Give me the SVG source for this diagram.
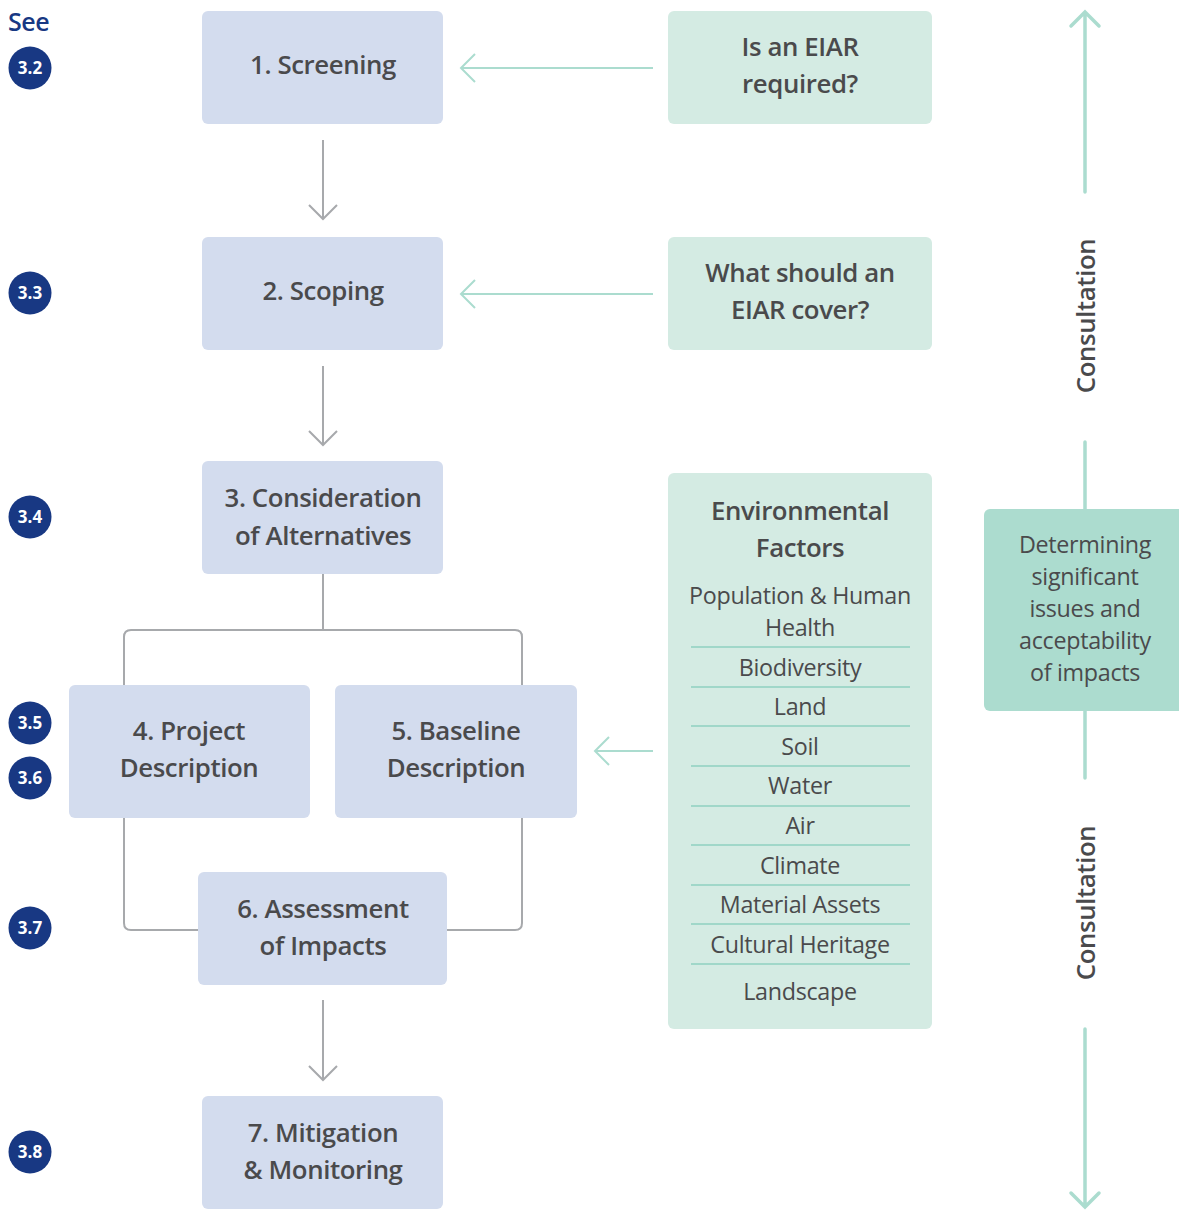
<svg xmlns="http://www.w3.org/2000/svg" width="1179" height="1210" viewBox="0 0 1179 1210">
<defs>
<style>
.node{fill:#d3dcee}
.q{fill:#d4ebe3}
.det{fill:#acdccf}
.t{font-family:"Open Sans","Noto Sans",sans-serif;font-weight:600;font-size:25.8px;fill:#4a4a4c;text-anchor:middle;letter-spacing:-0.4px}
.r{font-family:"Open Sans","Noto Sans",sans-serif;font-weight:400;font-size:23.3px;fill:#4a4a4c;text-anchor:middle;letter-spacing:-0.3px}
.grey{fill:none;stroke:#a7a9ac;stroke-width:2}
.teal{fill:none;stroke:#abdccf;stroke-width:2}
.tealw{fill:none;stroke:#abdccf;stroke-width:3.5;stroke-linecap:round}
.sep{stroke:#8fd0c0;stroke-width:1.3}
.badge{fill:#183883}
.bt{font-family:"Open Sans","Noto Sans",sans-serif;font-weight:700;font-size:17px;fill:#ffffff;text-anchor:middle}
</style>
</defs>
<rect width="1179" height="1210" fill="#ffffff"/>

<g id="see">
<text x="8" y="31" font-family="'Open Sans','Noto Sans',sans-serif" font-weight="600" font-size="25" fill="#183883" letter-spacing="-0.4">See</text>
<g id="b32"><circle class="badge" cx="30" cy="68" r="21.5"/><text class="bt" x="30" y="74">3.2</text></g>
<g id="b33"><circle class="badge" cx="30" cy="293" r="21.5"/><text class="bt" x="30" y="299">3.3</text></g>
<g id="b34"><circle class="badge" cx="30" cy="517" r="21.5"/><text class="bt" x="30" y="523">3.4</text></g>
<g id="b35"><circle class="badge" cx="30" cy="723" r="21.5"/><text class="bt" x="30" y="729">3.5</text></g>
<g id="b36"><circle class="badge" cx="30" cy="778" r="21.5"/><text class="bt" x="30" y="784">3.6</text></g>
<g id="b37"><circle class="badge" cx="30" cy="928" r="21.5"/><text class="bt" x="30" y="934">3.7</text></g>
<g id="b38"><circle class="badge" cx="30" cy="1152" r="21.5"/><text class="bt" x="30" y="1158">3.8</text></g>
</g>

<g id="connectors">
<path class="grey" d="M323 140V219M309 205L323 219L337 205"/>
<path class="grey" d="M323 366V445M309 431L323 445L337 431"/>
<path class="grey" d="M323 1000V1080M309 1066L323 1080L337 1066"/>
<path class="grey" d="M323 574V630M124 685V637Q124 630 131 630H515Q522 630 522 637V685"/>
<path class="grey" d="M124 818V923Q124 930 131 930H199M522 818V923Q522 930 515 930H447"/>
<path class="teal" d="M653 68H461M475 54L461 68L475 82"/>
<path class="teal" d="M653 294H461M475 280L461 294L475 308"/>
<path class="teal" d="M653 751H595M609 737L595 751L609 765"/>
<path class="tealw" d="M1085 192V12M1071 26L1085 12L1099 26"/>
<path class="tealw" d="M1085 442V509M1085 711V778"/>
<path class="tealw" d="M1085 1029V1207M1071 1193L1085 1207L1099 1193"/>
</g>

<g id="n1"><rect class="node" x="202" y="11" width="241" height="113" rx="6"/><text class="t" x="323" y="74">1. Screening</text></g>
<g id="n2"><rect class="node" x="202" y="237" width="241" height="113" rx="6"/><text class="t" x="323" y="300">2. Scoping</text></g>
<g id="n3"><rect class="node" x="202" y="461" width="241" height="113" rx="6"/><text class="t" x="323" y="507">3. Consideration</text><text class="t" x="323" y="545">of Alternatives</text></g>
<g id="n4"><rect class="node" x="69" y="685" width="241" height="133" rx="6"/><text class="t" x="189" y="740">4. Project</text><text class="t" x="189" y="777">Description</text></g>
<g id="n5"><rect class="node" x="335" y="685" width="242" height="133" rx="6"/><text class="t" x="456" y="740">5. Baseline</text><text class="t" x="456" y="777">Description</text></g>
<g id="n6"><rect class="node" x="198" y="872" width="249" height="113" rx="6"/><text class="t" x="323" y="918">6. Assessment</text><text class="t" x="323" y="955">of Impacts</text></g>
<g id="n7"><rect class="node" x="202" y="1096" width="241" height="113" rx="6"/><text class="t" x="323" y="1142">7. Mitigation</text><text class="t" x="323" y="1179">&amp; Monitoring</text></g>

<g id="q1"><rect class="q" x="668" y="11" width="264" height="113" rx="6"/><text class="t" x="800" y="56">Is an EIAR</text><text class="t" x="800" y="93">required?</text></g>
<g id="q2"><rect class="q" x="668" y="237" width="264" height="113" rx="6"/><text class="t" x="800" y="282">What should an</text><text class="t" x="800" y="319">EIAR cover?</text></g>

<g id="env">
<rect class="q" x="668" y="473" width="264" height="556" rx="6"/>
<text class="t" x="800" y="520">Environmental</text>
<text class="t" x="800" y="557">Factors</text>
<text class="r" x="800" y="604">Population &amp; Human</text>
<text class="r" x="800" y="636">Health</text>
<line class="sep" x1="691" y1="647" x2="910" y2="647"/>
<text class="r" x="800" y="676">Biodiversity</text>
<line class="sep" x1="691" y1="687" x2="910" y2="687"/>
<text class="r" x="800" y="715">Land</text>
<line class="sep" x1="691" y1="726" x2="910" y2="726"/>
<text class="r" x="800" y="755">Soil</text>
<line class="sep" x1="691" y1="766" x2="910" y2="766"/>
<text class="r" x="800" y="794">Water</text>
<line class="sep" x1="691" y1="806" x2="910" y2="806"/>
<text class="r" x="800" y="834">Air</text>
<line class="sep" x1="691" y1="845" x2="910" y2="845"/>
<text class="r" x="800" y="874">Climate</text>
<line class="sep" x1="691" y1="885" x2="910" y2="885"/>
<text class="r" x="800" y="913">Material Assets</text>
<line class="sep" x1="691" y1="924" x2="910" y2="924"/>
<text class="r" x="800" y="953">Cultural Heritage</text>
<line class="sep" x1="691" y1="964" x2="910" y2="964"/>
<text class="r" x="800" y="1000">Landscape</text>
</g>

<g id="det">
<rect class="det" x="984" y="509" width="205" height="202" rx="6"/>
<text class="r" x="1085" y="553">Determining</text>
<text class="r" x="1085" y="585">significant</text>
<text class="r" x="1085" y="617">issues and</text>
<text class="r" x="1085" y="649">acceptability</text>
<text class="r" x="1085" y="681">of impacts</text>
</g>

<g id="consult">
<text class="t" transform="translate(1095 316) rotate(-90)">Consultation</text>
<text class="t" transform="translate(1095 903) rotate(-90)">Consultation</text>
</g>
</svg>
